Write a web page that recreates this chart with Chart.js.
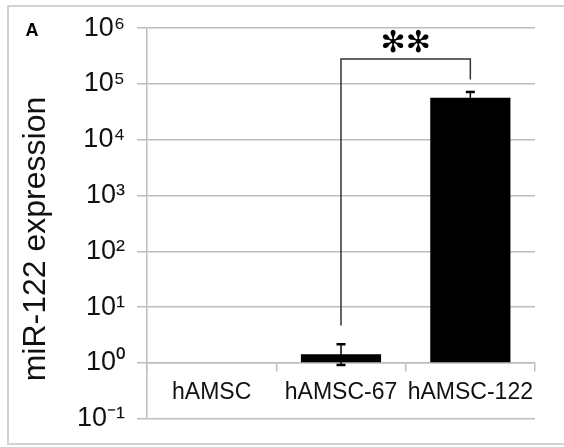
<!DOCTYPE html>
<html>
<head>
<meta charset="utf-8">
<script src="https://cdn.jsdelivr.net/npm/chart.js@4"></script>
<style>
html, body { margin: 0; padding: 0; background: #fff; }
</style>
</head>
<body>
<canvas id="exprChart" width="564" height="447"></canvas>
<script>
const categories = ['hAMSC', 'hAMSC-67', 'hAMSC-122'];
const expression = [1, 1.44, 56500];
const errorHigh = [null, 2.16, 72000];
const errorLow = [null, 0.92, null];
const yTicks = [0.1, 1, 10, 100, 1000, 10000, 100000, 1000000];
const yTickLabels = ['10⁻¹', '10⁰', '10¹', '10²', '10³', '10⁴', '10⁵', '10⁶'];
// significance bracket between hAMSC-67 and hAMSC-122
const bracketFrom = 1, bracketTo = 2;
const bracketLevel = 280000, bracketLeftEnd = 4.7, bracketRightEnd = 120000;
const bracketMark = '✻✻';

const FONT = 'Liberation Sans, Arial, sans-serif';
const GRID = '#bdbdbd';

const extras = {
    id: 'extras',
    beforeDraw(chart) {
        const c = chart.ctx;
        c.save();
        c.strokeStyle = '#d2d2d2';
        c.lineWidth = 2;
        c.strokeRect(8, 6, 600, 438);
        c.restore();
    },
    afterDatasetsDraw(chart) {
        const c = chart.ctx;
        const x = chart.scales.x, y = chart.scales.y;
        c.save();
        c.strokeStyle = '#000';
        expression.forEach((v, i) => {
            if (errorHigh[i] == null) return;
            const px = x.getPixelForValue(i);
            const top = y.getPixelForValue(errorHigh[i]);
            const bot = y.getPixelForValue(errorLow[i] != null ? errorLow[i] : v);
            c.lineWidth = 1.5;
            c.beginPath(); c.moveTo(px, top); c.lineTo(px, bot); c.stroke();
            c.lineWidth = 2.5;
            c.beginPath();
            c.moveTo(px - 4.5, top); c.lineTo(px + 4.5, top);
            if (errorLow[i] != null) { c.moveTo(px - 4.5, bot); c.lineTo(px + 4.5, bot); }
            c.stroke();
        });

        // bracket + stars
        const x1 = x.getPixelForValue(bracketFrom), x2 = x.getPixelForValue(bracketTo);
        const yl = y.getPixelForValue(bracketLevel);
        c.strokeStyle = '#333';
        c.lineWidth = 1.5;
        c.beginPath();
        c.moveTo(x1, y.getPixelForValue(bracketLeftEnd));
        c.lineTo(x1, yl);
        c.lineTo(x2, yl);
        c.lineTo(x2, y.getPixelForValue(bracketRightEnd));
        c.stroke();
        c.fillStyle = '#000';
        c.font = '30px DejaVu Sans';
        c.textAlign = 'center';
        c.textBaseline = 'middle';
        c.fillText(bracketMark, (x1 + x2) / 2, yl - 15);

        // panel letter
        c.font = 'bold 18px ' + FONT;
        c.fillText('A', 32, 31);

        // y axis title
        c.translate(36, 239);
        c.rotate(-Math.PI / 2);
        c.font = '32px ' + FONT;
        c.fillStyle = '#111';
        c.fillText('miR-122 expression', 0, 0);
        c.restore();
    }
};

new Chart(document.getElementById('exprChart'), {
    type: 'bar',
    data: {
        labels: categories,
        datasets: [{
            data: expression,
            base: 1,
            backgroundColor: '#000',
            barPercentage: 0.62,
            categoryPercentage: 1
        }]
    },
    options: {
        responsive: false,
        animation: false,
        layout: { padding: { left: 0, right: 29, top: 25, bottom: 26 } },
        plugins: { legend: { display: false }, tooltip: { enabled: false } },
        scales: {
            x: {
                position: { y: 1 },
                grid: { offset: true, drawOnChartArea: false, tickLength: 8, color: GRID, lineWidth: 1.5 },
                border: { color: GRID, width: 1.5 },
                ticks: {
                    font: { family: FONT, size: 23 },
                    color: '#111',
                    padding: 8,
                    autoSkip: false,
                    maxRotation: 0,
                    minRotation: 0
                },
                afterFit: s => { s.height = 0; }
            },
            y: {
                type: 'logarithmic',
                min: 0.1,
                max: 1000000,
                afterBuildTicks: s => { s.ticks = yTicks.map(v => ({ value: v })); },
                ticks: {
                    callback: (v, i) => yTickLabels[i],
                    font: { family: FONT, size: 27 },
                    color: '#111',
                    padding: 12
                },
                grid: { color: GRID, lineWidth: 1.5, tickLength: 10 },
                border: { color: GRID, width: 1.5 },
                afterFit: s => { s.width = 147; }
            }
        }
    },
    plugins: [extras]
});
</script>
</body>
</html>
